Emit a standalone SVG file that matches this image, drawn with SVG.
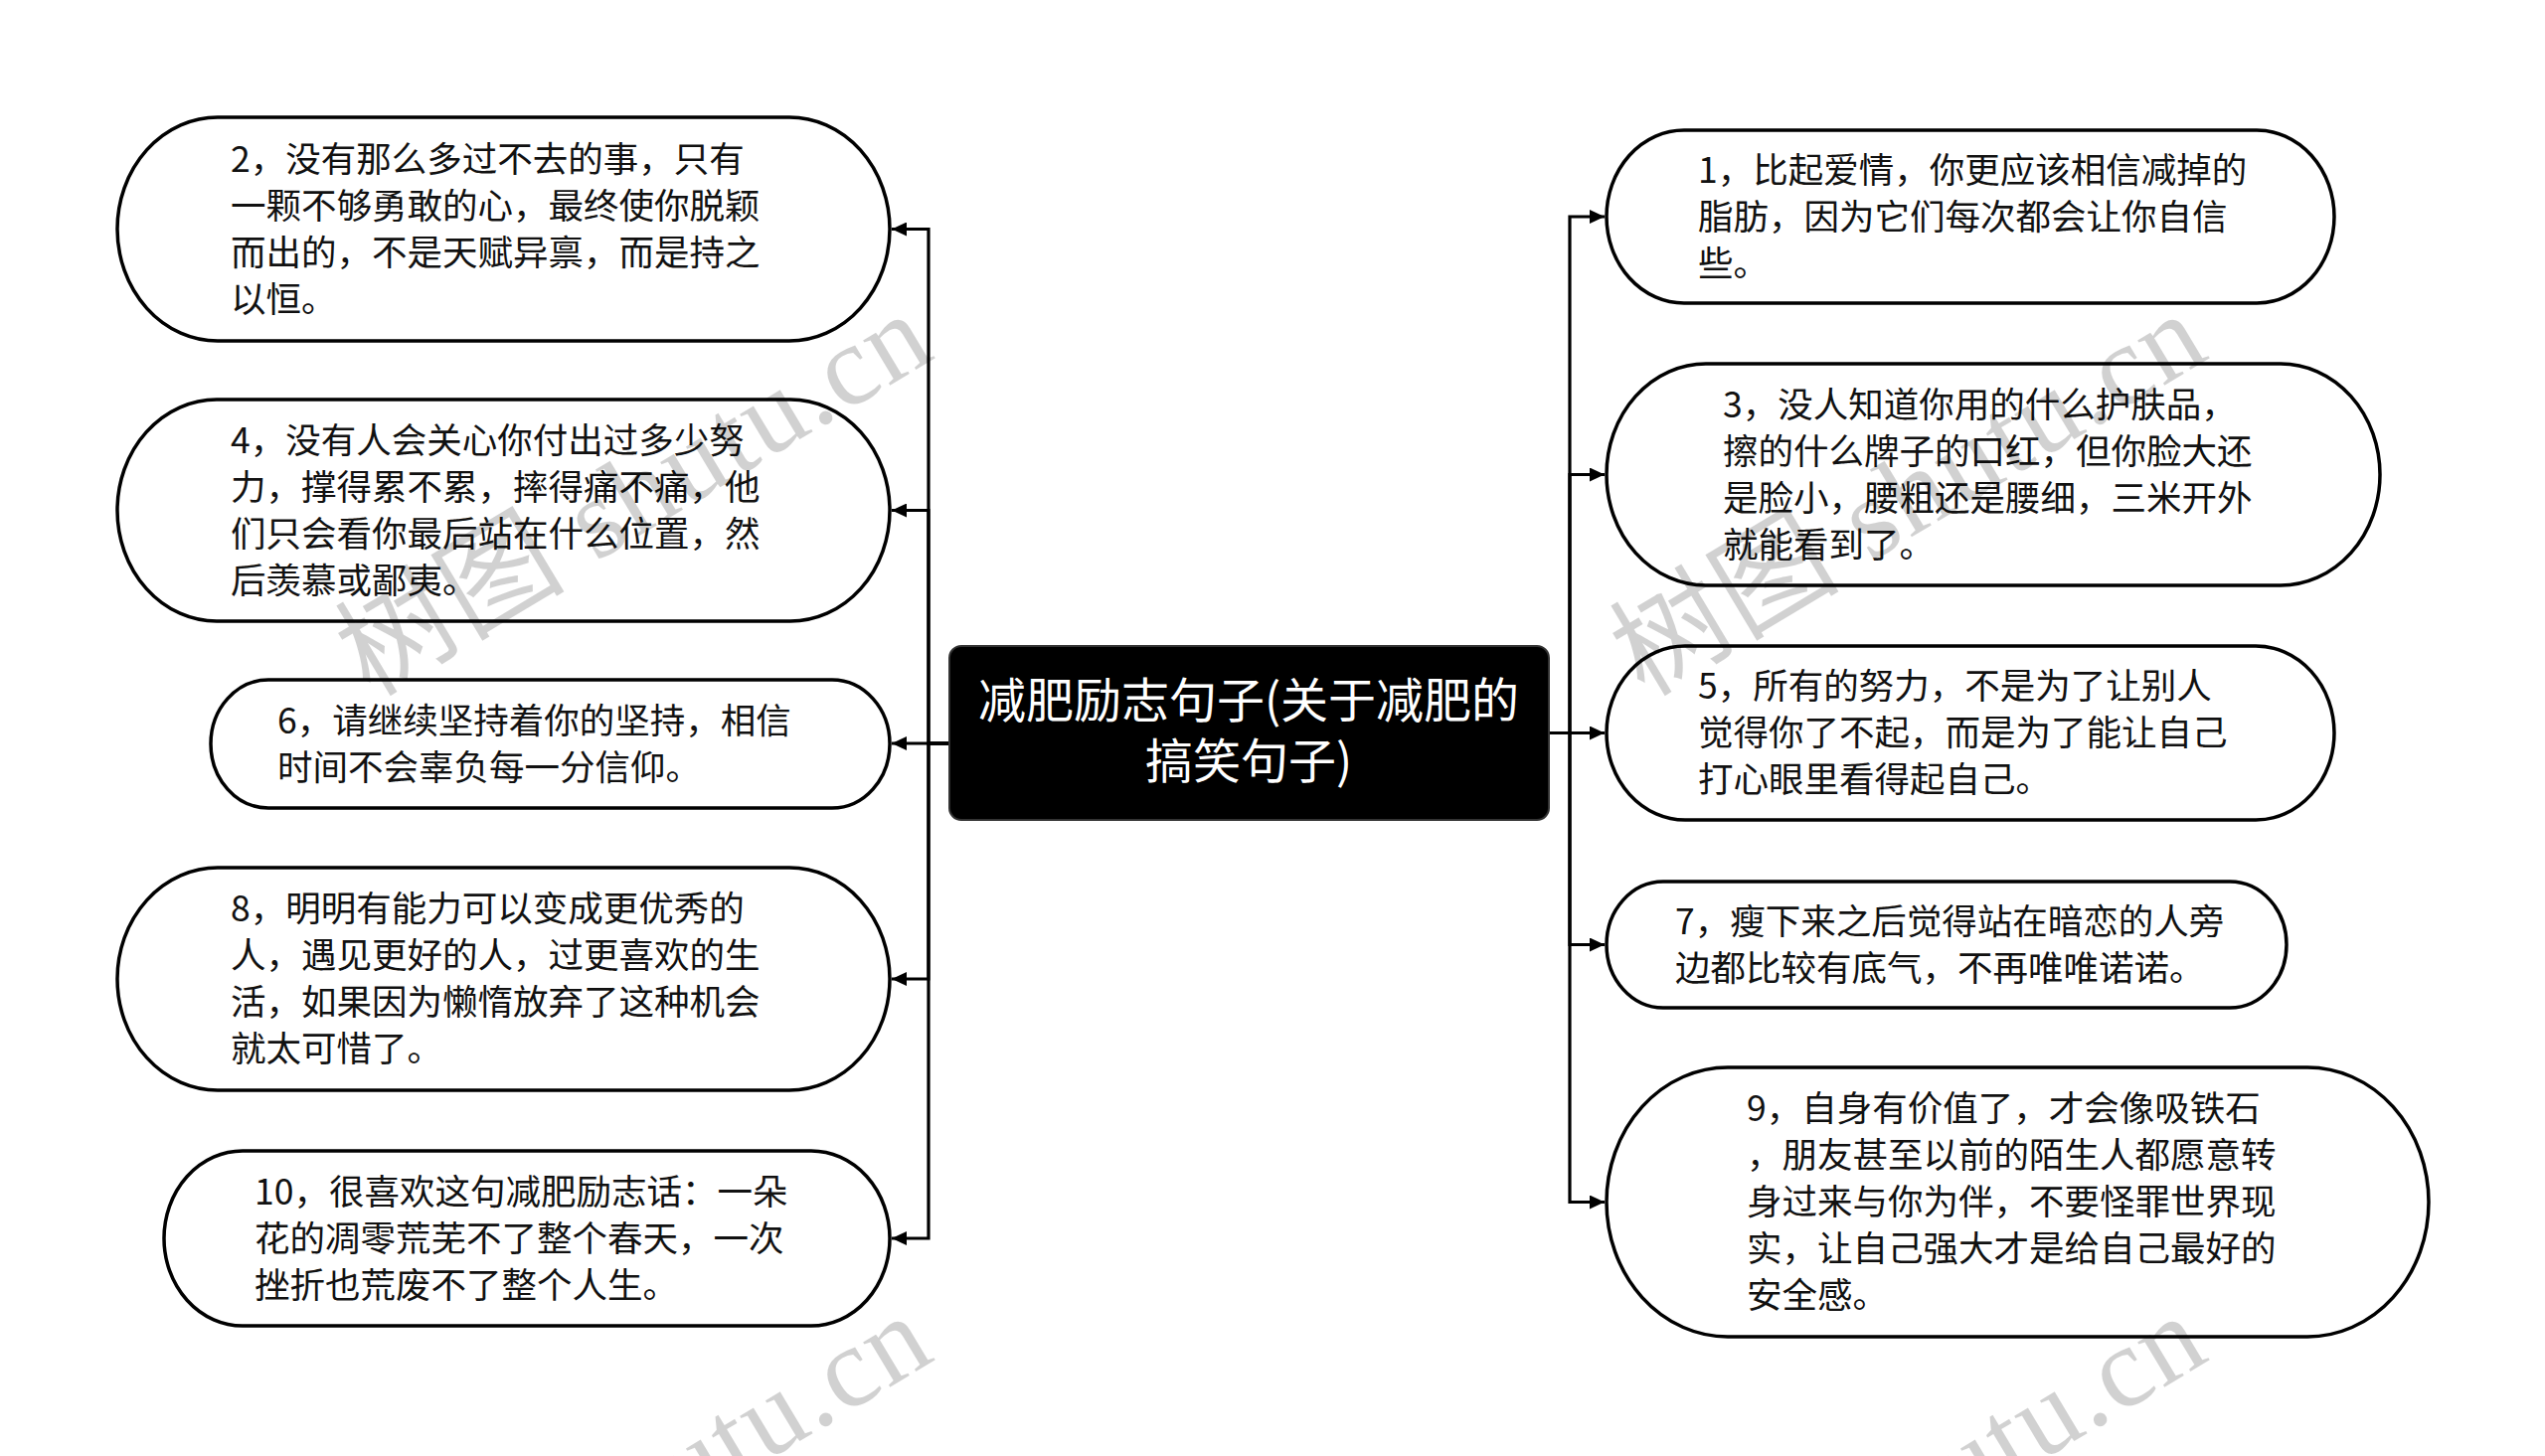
<svg xmlns="http://www.w3.org/2000/svg" width="2560" height="1465" viewBox="0 0 2560 1465">
<style>
.node{fill:#fff;stroke:#000;stroke-width:3.5}
.t{font-family:"Noto Sans CJK SC","Noto Sans",sans-serif;font-size:35.5px;fill:#111}
.ct{font-family:"Noto Sans CJK SC","Noto Sans",sans-serif;font-size:48px;fill:#fff;text-anchor:middle}
.edge{fill:none;stroke:#000;stroke-width:3.2}
.wm{font-family:"Liberation Serif","Noto Sans CJK SC",serif;font-size:115px;fill:#000;fill-opacity:0.18;letter-spacing:2px}
</style>
<defs>
<marker id="ah" markerUnits="userSpaceOnUse" markerWidth="16" markerHeight="14" refX="15" refY="7" orient="auto">
<path d="M0,0 L15,7 L0,14 z" fill="#000"/>
</marker>
</defs>
<rect width="2560" height="1465" fill="#fff"/>
<g id="connectors">
<path class="edge" marker-end="url(#ah)" d="M955,748 H934 V230.5 H897"/>
<path class="edge" marker-end="url(#ah)" d="M955,748 H934 V513.5 H897"/>
<path class="edge" marker-end="url(#ah)" d="M955,748 H897"/>
<path class="edge" marker-end="url(#ah)" d="M955,748 H934 V985 H897"/>
<path class="edge" marker-end="url(#ah)" d="M955,748 H934 V1246 H897"/>
<path class="edge" marker-end="url(#ah)" d="M1558,737.5 H1579 V218 H1614"/>
<path class="edge" marker-end="url(#ah)" d="M1558,737.5 H1579 V477.5 H1614"/>
<path class="edge" marker-end="url(#ah)" d="M1558,737.5 H1614"/>
<path class="edge" marker-end="url(#ah)" d="M1558,737.5 H1579 V950.5 H1614"/>
<path class="edge" marker-end="url(#ah)" d="M1558,737.5 H1579 V1209.5 H1614"/>
</g>
<g id="center">
<rect x="955" y="650" width="603" height="175" rx="12" ry="12" fill="#000" stroke="#333" stroke-width="2"/>
<text class="ct" x="1256" y="722">减肥励志句子(关于减肥的<tspan x="1256" dy="61">搞笑句子)</tspan></text>
</g>
<g id="n2">
<rect class="node" x="118" y="118" width="777" height="225" rx="101" ry="112.5"/>
<text class="t" x="232" y="172.5">2，没有那么多过不去的事，只有<tspan x="232" dy="47">一颗不够勇敢的心，最终使你脱颖</tspan><tspan x="232" dy="47">而出的，不是天赋异禀，而是持之</tspan><tspan x="232" dy="47">以恒。</tspan></text>
</g>
<g id="n4">
<rect class="node" x="118" y="402" width="777" height="223" rx="100" ry="111.5"/>
<text class="t" x="232" y="455.5">4，没有人会关心你付出过多少努<tspan x="232" dy="47">力，撑得累不累，摔得痛不痛，他</tspan><tspan x="232" dy="47">们只会看你最后站在什么位置，然</tspan><tspan x="232" dy="47">后羡慕或鄙夷。</tspan></text>
</g>
<g id="n6">
<rect class="node" x="212" y="684" width="683" height="129" rx="58" ry="64.5"/>
<text class="t" x="279" y="737.5">6，请继续坚持着你的坚持，相信<tspan x="279" dy="47">时间不会辜负每一分信仰。</tspan></text>
</g>
<g id="n8">
<rect class="node" x="118" y="873" width="777" height="224" rx="101" ry="112"/>
<text class="t" x="232" y="927">8，明明有能力可以变成更优秀的<tspan x="232" dy="47">人，遇见更好的人，过更喜欢的生</tspan><tspan x="232" dy="47">活，如果因为懒惰放弃了这种机会</tspan><tspan x="232" dy="47">就太可惜了。</tspan></text>
</g>
<g id="n10">
<rect class="node" x="165" y="1158" width="730" height="176" rx="79" ry="88"/>
<text class="t" x="256" y="1211.5">10，很喜欢这句减肥励志话：一朵<tspan x="256" dy="47">花的凋零荒芜不了整个春天，一次</tspan><tspan x="256" dy="47">挫折也荒废不了整个人生。</tspan></text>
</g>
<g id="n1">
<rect class="node" x="1616" y="131" width="732" height="174" rx="78" ry="87"/>
<text class="t" x="1708" y="183.5">1，比起爱情，你更应该相信减掉的<tspan x="1708" dy="47">脂肪，因为它们每次都会让你自信</tspan><tspan x="1708" dy="47">些。</tspan></text>
</g>
<g id="n3">
<rect class="node" x="1616" y="366" width="778" height="223" rx="100" ry="111.5"/>
<text class="t" x="1733" y="419.5">3，没人知道你用的什么护肤品，<tspan x="1733" dy="47">擦的什么牌子的口红，但你脸大还</tspan><tspan x="1733" dy="47">是脸小，腰粗还是腰细，三米开外</tspan><tspan x="1733" dy="47">就能看到了。</tspan></text>
</g>
<g id="n5">
<rect class="node" x="1616" y="650" width="732" height="175" rx="79" ry="87.5"/>
<text class="t" x="1708" y="703">5，所有的努力，不是为了让别人<tspan x="1708" dy="47">觉得你了不起，而是为了能让自己</tspan><tspan x="1708" dy="47">打心眼里看得起自己。</tspan></text>
</g>
<g id="n7">
<rect class="node" x="1616" y="887" width="684" height="127" rx="57" ry="63.5"/>
<text class="t" x="1685" y="939.5">7，瘦下来之后觉得站在暗恋的人旁<tspan x="1685" dy="47">边都比较有底气，不再唯唯诺诺。</tspan></text>
</g>
<g id="n9">
<rect class="node" x="1616" y="1074" width="827" height="271" rx="122" ry="135.5"/>
<text class="t" x="1757" y="1128">9，自身有价值了，才会像吸铁石<tspan x="1757" dy="47">，朋友甚至以前的陌生人都愿意转</tspan><tspan x="1757" dy="47">身过来与你为伴，不要怪罪世界现</tspan><tspan x="1757" dy="47">实，让自己强大才是给自己最好的</tspan><tspan x="1757" dy="47">安全感。</tspan></text>
</g>
<g id="watermarks">
<text class="wm" x="372" y="702" transform="rotate(-31 372 702)">树图 shutu.cn</text>
<text class="wm" x="1654" y="702" transform="rotate(-31 1654 702)">树图 shutu.cn</text>
<text class="wm" x="372" y="1710" transform="rotate(-31 372 1710)">树图 shutu.cn</text>
<text class="wm" x="1654" y="1710" transform="rotate(-31 1654 1710)">树图 shutu.cn</text>
</g>
</svg>
